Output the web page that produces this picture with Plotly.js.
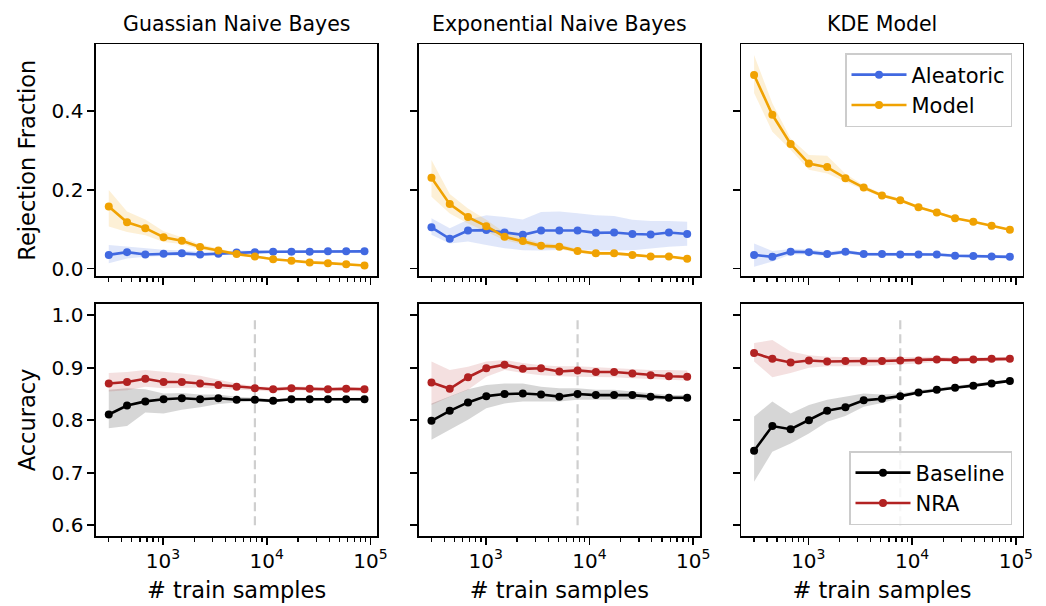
<!DOCTYPE html>
<html>
<head>
<meta charset="utf-8">
<script src="https://cdn.plot.ly/plotly-3.0.1.min.js"></script>
<style>
html,body{margin:0;padding:0;background:#fff;}
#chart{width:1046px;height:606px;}
</style>
</head>
<body>
<div id="chart"></div>
<script>
// ---------------- data ----------------
const trainSamples = [300, 450, 675, 1013, 1519, 2278, 3417, 5126, 7689, 11533, 17300, 25949, 38924, 58386, 87579];
const thresholdSamples = 7689;
const thresholdAccRange = [0.6, 1.0];

const panelTitles = ["Guassian Naive Bayes", "Exponential Naive Bayes", "KDE Model"];

// Rejection fraction - Gaussian NB
const gnbAleatoric   = [0.035,0.042,0.036,0.038,0.039,0.036,0.038,0.041,0.042,0.043,0.043,0.043,0.044,0.044,0.044];
const gnbAleatoricLo = [0.014,0.026,0.030,0.032,0.033,0.031,0.034,0.037,0.039,0.040,0.040,0.040,0.041,0.041,0.041];
const gnbAleatoricHi = [0.060,0.056,0.051,0.048,0.046,0.043,0.043,0.046,0.046,0.047,0.047,0.047,0.047,0.047,0.047];
const gnbModel       = [0.158,0.118,0.103,0.080,0.071,0.055,0.046,0.037,0.031,0.024,0.020,0.016,0.014,0.011,0.008];
const gnbModelLo     = [0.107,0.093,0.085,0.068,0.063,0.049,0.041,0.034,0.028,0.022,0.018,0.014,0.012,0.009,0.006];
const gnbModelHi     = [0.200,0.145,0.125,0.095,0.080,0.062,0.051,0.041,0.034,0.027,0.022,0.018,0.016,0.013,0.010];

// Rejection fraction - Exponential NB
const enbAleatoric   = [0.105,0.076,0.097,0.098,0.092,0.086,0.097,0.097,0.097,0.091,0.092,0.088,0.087,0.092,0.088];
const enbAleatoricLo = [0.086,0.064,0.069,0.060,0.052,0.047,0.046,0.047,0.049,0.046,0.046,0.047,0.052,0.056,0.058];
const enbAleatoricHi = [0.128,0.103,0.124,0.136,0.131,0.125,0.144,0.145,0.141,0.136,0.134,0.124,0.121,0.121,0.119];
const enbModel       = [0.231,0.164,0.131,0.108,0.081,0.070,0.058,0.056,0.045,0.039,0.039,0.035,0.031,0.031,0.025];
const enbModelLo     = [0.183,0.140,0.115,0.094,0.072,0.062,0.052,0.050,0.040,0.035,0.035,0.031,0.028,0.028,0.022];
const enbModelHi     = [0.276,0.190,0.153,0.124,0.092,0.079,0.065,0.062,0.050,0.043,0.043,0.039,0.034,0.034,0.028];

// Rejection fraction - KDE
const kdeAleatoric   = [0.035,0.030,0.043,0.042,0.037,0.043,0.037,0.037,0.036,0.036,0.036,0.033,0.032,0.031,0.030];
const kdeAleatoricLo = [0.005,0.018,0.036,0.036,0.032,0.038,0.033,0.033,0.032,0.032,0.032,0.029,0.028,0.027,0.026];
const kdeAleatoricHi = [0.064,0.045,0.050,0.049,0.044,0.048,0.041,0.041,0.040,0.040,0.040,0.037,0.036,0.035,0.034];
const kdeModel       = [0.492,0.391,0.317,0.267,0.258,0.230,0.206,0.186,0.174,0.156,0.143,0.128,0.119,0.109,0.099];
const kdeModelLo     = [0.446,0.348,0.302,0.251,0.242,0.222,0.200,0.182,0.170,0.153,0.140,0.126,0.117,0.107,0.097];
const kdeModelHi     = [0.543,0.420,0.331,0.289,0.287,0.241,0.212,0.191,0.178,0.159,0.146,0.131,0.121,0.111,0.101];

// Accuracy - Gaussian NB
const gnbBaseline    = [0.811,0.828,0.836,0.840,0.842,0.840,0.842,0.839,0.839,0.837,0.840,0.840,0.840,0.840,0.840];
const gnbBaselineLo  = [0.785,0.789,0.815,0.813,0.820,0.825,0.831,0.834,0.836,0.834,0.837,0.837,0.837,0.837,0.837];
const gnbBaselineHi  = [0.858,0.861,0.859,0.851,0.852,0.849,0.849,0.845,0.843,0.840,0.843,0.843,0.843,0.843,0.843];
const gnbNRA         = [0.870,0.873,0.879,0.873,0.873,0.870,0.867,0.864,0.861,0.859,0.861,0.860,0.859,0.860,0.859];
const gnbNRALo       = [0.855,0.857,0.864,0.861,0.862,0.862,0.860,0.858,0.857,0.855,0.857,0.856,0.855,0.856,0.855];
const gnbNRAHi       = [0.890,0.892,0.896,0.893,0.889,0.885,0.878,0.870,0.865,0.863,0.865,0.864,0.863,0.864,0.863];

// Accuracy - Exponential NB
const enbBaseline    = [0.799,0.818,0.834,0.846,0.850,0.851,0.849,0.845,0.850,0.848,0.848,0.848,0.845,0.843,0.843];
const enbBaselineLo  = [0.763,0.782,0.801,0.823,0.832,0.836,0.836,0.836,0.839,0.839,0.839,0.839,0.839,0.839,0.839];
const enbBaselineHi  = [0.832,0.845,0.859,0.867,0.870,0.870,0.864,0.861,0.861,0.858,0.858,0.855,0.851,0.848,0.848];
const enbNRA         = [0.872,0.860,0.882,0.899,0.906,0.898,0.899,0.893,0.895,0.892,0.892,0.889,0.886,0.884,0.883];
const enbNRALo       = [0.829,0.845,0.858,0.883,0.896,0.890,0.886,0.884,0.883,0.882,0.882,0.880,0.878,0.877,0.876];
const enbNRAHi       = [0.912,0.896,0.902,0.912,0.915,0.909,0.905,0.903,0.903,0.901,0.899,0.897,0.896,0.896,0.895];

// Accuracy - KDE
const kdeBaseline    = [0.742,0.789,0.783,0.800,0.818,0.825,0.838,0.841,0.846,0.853,0.858,0.862,0.866,0.870,0.875];
const kdeBaselineLo  = [0.683,0.740,0.756,0.775,0.797,0.808,0.826,0.833,0.843,0.850,0.856,0.860,0.864,0.868,0.873];
const kdeBaselineHi  = [0.807,0.836,0.813,0.829,0.839,0.845,0.851,0.849,0.851,0.857,0.861,0.865,0.869,0.873,0.878];
const kdeNRA         = [0.928,0.917,0.910,0.914,0.912,0.913,0.913,0.913,0.914,0.914,0.916,0.915,0.916,0.917,0.917];
const kdeNRALo       = [0.912,0.882,0.890,0.900,0.903,0.903,0.903,0.905,0.906,0.908,0.911,0.911,0.912,0.913,0.913];
const kdeNRAHi       = [0.947,0.953,0.931,0.924,0.921,0.920,0.920,0.920,0.920,0.920,0.921,0.919,0.920,0.921,0.921];

const rejTicks = [0.0, 0.2, 0.4];
const accTicks = [0.6, 0.7, 0.8, 0.9, 1.0];

// ---------------- style ----------------
const FONT = "DejaVu Sans";
const C = {
  aleatoric: "#4169E1", aleatoricBand: "rgba(65,105,225,0.16)",
  model: "#F0A202",     modelBand: "rgba(240,162,2,0.16)",
  baseline: "#000000",  baselineBand: "rgba(0,0,0,0.16)",
  nra: "#B22222",       nraBand: "rgba(178,34,34,0.14)"
};

const W = 1046, H = 606;
const colPx = [[96, 377.3], [418.7, 700], [741.3, 1022.7]];
const rowPx = [[44.3, 276], [304, 536]];
const xdom = colPx.map(c => [c[0] / W, c[1] / W]);
const ydom = rowPx.map(r => [1 - r[1] / H, 1 - r[0] / H]);

const traces = [];
function band(xa, ya, lo, hi, color) {
  traces.push({
    x: trainSamples.concat(trainSamples.slice().reverse()),
    y: hi.concat(lo.slice().reverse()),
    xaxis: xa, yaxis: ya, type: "scatter", mode: "lines",
    fill: "toself", fillcolor: color, line: {width: 0, color: "rgba(0,0,0,0)"},
    hoverinfo: "skip", showlegend: false
  });
}
function series(xa, ya, vals, color, name, legend, show) {
  traces.push({
    x: trainSamples, y: vals, xaxis: xa, yaxis: ya, type: "scatter",
    mode: "lines+markers", name: name,
    line: {color: color, width: 2.6}, marker: {color: color, size: 8},
    showlegend: show, legend: legend, legendgroup: name
  });
}
function vline(xa, ya) {
  traces.push({
    x: [thresholdSamples, thresholdSamples], y: thresholdAccRange,
    xaxis: xa, yaxis: ya, type: "scatter", mode: "lines",
    line: {color: "#cfcfcf", width: 2.2, dash: "9px,5px"},
    hoverinfo: "skip", showlegend: false
  });
}

const topSets = [
  [gnbAleatoric, gnbAleatoricLo, gnbAleatoricHi, gnbModel, gnbModelLo, gnbModelHi],
  [enbAleatoric, enbAleatoricLo, enbAleatoricHi, enbModel, enbModelLo, enbModelHi],
  [kdeAleatoric, kdeAleatoricLo, kdeAleatoricHi, kdeModel, kdeModelLo, kdeModelHi]
];
const botSets = [
  [gnbBaseline, gnbBaselineLo, gnbBaselineHi, gnbNRA, gnbNRALo, gnbNRAHi],
  [enbBaseline, enbBaselineLo, enbBaselineHi, enbNRA, enbNRALo, enbNRAHi],
  [kdeBaseline, kdeBaselineLo, kdeBaselineHi, kdeNRA, kdeNRALo, kdeNRAHi]
];

for (let i = 0; i < 3; i++) {
  const xa = "x" + (i + 1), ya = "y" + (i + 1);
  const s = topSets[i];
  band(xa, ya, s[1], s[2], C.aleatoricBand);
  band(xa, ya, s[4], s[5], C.modelBand);
  series(xa, ya, s[0], C.aleatoric, "Aleatoric", "legend", i === 2);
  series(xa, ya, s[3], C.model, "Model", "legend", i === 2);
}
for (let i = 0; i < 3; i++) {
  const xa = "x" + (i + 4), ya = "y" + (i + 4);
  const s = botSets[i];
  vline(xa, ya);
  band(xa, ya, s[1], s[2], C.baselineBand);
  band(xa, ya, s[4], s[5], C.nraBand);
  series(xa, ya, s[0], C.baseline, "Baseline", "legend2", i === 2);
  series(xa, ya, s[3], C.nra, "NRA", "legend2", i === 2);
}

const legendStyle = {
  bgcolor: "rgba(255,255,255,0.8)", bordercolor: "#cccccc", borderwidth: 1.5,
  font: {family: FONT, size: 21, color: "#000"}, traceorder: "grouped", tracegroupgap: 0,
  itemwidth: 55
};

const layout = {
  width: W, height: H,
  margin: {l: 0, r: 0, t: 0, b: 0},
  paper_bgcolor: "#fff", plot_bgcolor: "#fff",
  font: {family: FONT, color: "#000", size: 20},
  hovermode: false,
  annotations: [],
  legend: Object.assign({x: 1012 / W, xanchor: "right", y: 1 - 53 / H, yanchor: "top"}, legendStyle),
  legend2: Object.assign({x: 1012 / W, xanchor: "right", y: 1 - 525 / H, yanchor: "bottom"}, legendStyle)
};

for (let r = 0; r < 2; r++) {
  for (let c = 0; c < 3; c++) {
    const n = r * 3 + c + 1;
    const xk = "xaxis" + n, yk = "yaxis" + n;
    layout[xk] = {
      type: "log", domain: xdom[c], range: [2.354, 5.066], anchor: "y" + n,
      dtick: 1, exponentformat: "power", showexponent: "all",
      showticklabels: r === 1, tickfont: {family: FONT, size: 16, color: "#000"},
      ticks: "outside", ticklen: 7, tickwidth: 1.6, tickcolor: "#000",
      minor: {ticks: "outside", ticklen: 4, tickwidth: 1.2, tickcolor: "#000", dtick: "D1", showgrid: false},
      showline: true, linecolor: "#000", linewidth: 1.6, mirror: true,
      showgrid: false, zeroline: false, fixedrange: true,
      title: r === 1 ? {text: "# train samples", font: {family: FONT, size: 22.5, color: "#000"}, standoff: 10} : {text: ""}
    };
    layout[yk] = {
      domain: ydom[r], anchor: "x" + n,
      range: r === 0 ? [-0.0186, 0.570] : [0.5796, 1.0215],
      tickvals: r === 0 ? rejTicks : accTicks, tickformat: ".1f",
      showticklabels: c === 0, tickfont: {family: FONT, size: 20, color: "#000"},
      ticks: "outside", ticklen: 7, tickwidth: 1.6, tickcolor: "#000",
      showline: true, linecolor: "#000", linewidth: 1.6, mirror: true,
      showgrid: false, zeroline: false, fixedrange: true,
      title: c === 0 ? {text: r === 0 ? "Rejection Fraction" : "Accuracy", font: {family: FONT, size: 22.5, color: "#000"}, standoff: 10} : {text: ""}
    };
  }
}

for (let c = 0; c < 3; c++) {
  layout.annotations.push({
    text: panelTitles[c], xref: "paper", yref: "paper",
    x: (xdom[c][0] + xdom[c][1]) / 2, y: ydom[0][1], xanchor: "center", yanchor: "bottom",
    yshift: 6, showarrow: false, font: {family: FONT, size: 20.5, color: "#000"}
  });
}

Plotly.newPlot("chart", traces, layout, {displayModeBar: false, staticPlot: true});
</script>
</body>
</html>
